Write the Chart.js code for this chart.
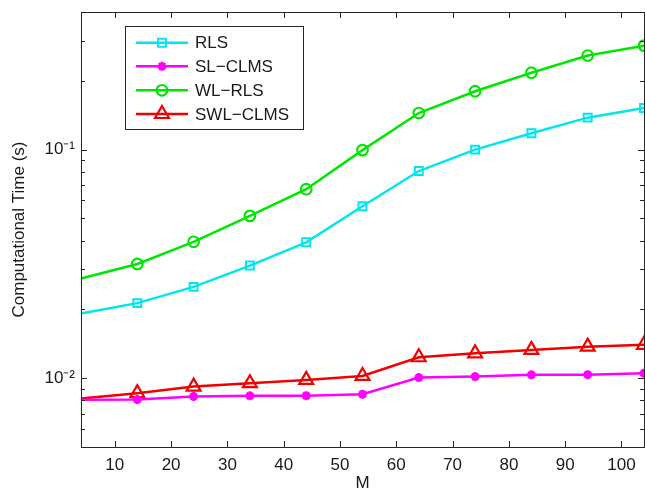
<!DOCTYPE html>
<html>
<head>
<meta charset="utf-8">
<script src="https://cdn.jsdelivr.net/npm/chart.js@4/dist/chart.umd.min.js"></script>
<style>
  html, body { margin: 0; padding: 0; background: #ffffff; }
  #wrap { width: 645px; height: 488px; }
</style>
</head>
<body>
<div id="wrap"><canvas id="c" width="645" height="488"></canvas></div>
<script>
// ---- data ----
const M = [4, 14, 24, 34, 44, 54, 64, 74, 84, 94, 104];
const rls     = [0.0192, 0.0213, 0.0251, 0.0311, 0.0393, 0.0565, 0.0806, 0.100, 0.118, 0.138, 0.152];
const slclms  = [0.00804, 0.00806, 0.00832, 0.00837, 0.00838, 0.00851, 0.01006, 0.01016, 0.01034, 0.01036, 0.01051];
const wlrls   = [0.0273, 0.0316, 0.0395, 0.0513, 0.0671, 0.0995, 0.1445, 0.180, 0.217, 0.258, 0.285];
const swlclms = [0.00815, 0.00860, 0.00919, 0.00951, 0.00983, 0.01023, 0.01235, 0.01285, 0.0133, 0.01374, 0.0140];
const seriesNames = ['RLS', 'SL\u2212CLMS', 'WL\u2212RLS', 'SWL\u2212CLMS'];
const xTicks = [10, 20, 30, 40, 50, 60, 70, 80, 90, 100];
const yTickValues = [0.01, 0.1];
const yTickLabels = ['10\u207B\u00B2', '10\u207B\u00B9'];
const yMinorTicks = [0.005, 0.006, 0.007, 0.008, 0.009, 0.02, 0.03, 0.04, 0.05, 0.06, 0.07, 0.08, 0.09, 0.2, 0.3, 0.4];

const FONT = 'Liberation Sans, Arial, Helvetica, sans-serif';
const TXT = '#1a1a1a';

function ds(label, data, color, style, r, bw) {
  return {
    label: label, data: data.map((v, i) => ({x: M[i], y: v})),
    borderColor: color, backgroundColor: 'rgba(0,0,0,0)',
    borderWidth: 2.5, pointStyle: style,
    pointRadius: ctx => ctx.dataIndex === 0 ? 0 : r,
    pointBorderWidth: bw, pointBorderColor: color, pointBackgroundColor: 'rgba(0,0,0,0)',
    tension: 0, clip: false, _r: r
  };
}

const boxTicks = {
  id: 'boxTicks',
  afterDatasetsDraw(chart) {
    const {ctx, chartArea: a, scales: {x, y}} = chart;
    ctx.save();
    ctx.strokeStyle = '#262626';
    ctx.lineWidth = 1;
    ctx.beginPath();
    xTicks.forEach(v => {
      const px = Math.round(x.getPixelForValue(v)) + 0.5;
      ctx.moveTo(px, a.bottom); ctx.lineTo(px, a.bottom - 6);
      ctx.moveTo(px, a.top); ctx.lineTo(px, a.top + 6);
    });
    yTickValues.forEach(v => {
      const py = Math.round(y.getPixelForValue(v)) + 0.5;
      ctx.moveTo(a.left, py); ctx.lineTo(a.left + 6, py);
      ctx.moveTo(a.right, py); ctx.lineTo(a.right - 6, py);
    });
    yMinorTicks.forEach(v => {
      const py = Math.round(y.getPixelForValue(v)) + 0.5;
      ctx.moveTo(a.left, py); ctx.lineTo(a.left + 4, py);
      ctx.moveTo(a.right, py); ctx.lineTo(a.right - 4, py);
    });
    ctx.stroke();
    ctx.strokeRect(Math.round(a.left) + 0.5, Math.round(a.top) + 0.5,
                   Math.round(a.right - a.left), Math.round(a.bottom - a.top));
    ctx.restore();
  },
  afterDraw(chart) {
    const ctx = chart.ctx;
    const bx = 125, by = 26, bw = 178, bh = 103;
    ctx.save();
    ctx.fillStyle = '#ffffff';
    ctx.fillRect(bx, by, bw, bh);
    ctx.strokeStyle = '#262626';
    ctx.lineWidth = 1;
    ctx.strokeRect(bx + 0.5, by + 0.5, bw, bh);
    const rows = [42.7, 66.3, 90.3, 114];
    chart.data.datasets.forEach((d, i) => {
      const yy = rows[i];
      ctx.strokeStyle = d.borderColor;
      ctx.lineWidth = 2.5;
      ctx.beginPath();
      ctx.moveTo(136, yy); ctx.lineTo(188, yy);
      ctx.stroke();
      ctx.lineWidth = d.pointBorderWidth;
      ctx.fillStyle = 'rgba(0,0,0,0)';
      Chart.helpers.drawPoint(ctx, {pointStyle: d.pointStyle, radius: d._r, borderWidth: d.pointBorderWidth, rotation: 0}, 162, yy);
      ctx.fillStyle = TXT;
      ctx.font = '17px ' + FONT;
      ctx.textBaseline = 'middle';
      ctx.textAlign = 'left';
      ctx.fillText(d.label, 195, yy + 1);
    });
    ctx.restore();
  }
};

new Chart(document.getElementById('c'), {
  type: 'line',
  data: {
    datasets: [
      ds(seriesNames[0], rls, '#00e6ee', 'rect', 5.6, 2),
      ds(seriesNames[1], slclms, '#ff00ff', 'star', 4.5, 2.8),
      ds(seriesNames[2], wlrls, '#00e600', 'circle', 5.3, 2.2),
      ds(seriesNames[3], swlclms, '#f20000', 'triangle', 8, 2.2)
    ]
  },
  options: {
    responsive: false,
    animation: false,
    devicePixelRatio: 1,
    layout: { autoPadding: false, padding: { left: 0, right: 1, top: 12, bottom: 0 } },
    plugins: { legend: { display: false }, tooltip: { enabled: false } },
    scales: {
      x: {
        type: 'linear', min: 4, max: 104,
        grid: { display: false, drawTicks: false },
        border: { display: false },
        afterBuildTicks: s => { s.ticks = xTicks.map(v => ({value: v})); },
        afterFit: s => { s.height = 41; s.paddingLeft = 0; s.paddingRight = 0; },
        ticks: { color: TXT, font: { family: FONT, size: 17 }, padding: 8, maxRotation: 0, autoSkip: false },
        title: { display: true, text: 'M', color: TXT, font: { family: FONT, size: 17 }, padding: { top: 0, bottom: -6 } }
      },
      y: {
        type: 'logarithmic', min: 0.005, max: 0.4,
        grid: { display: false, drawTicks: false },
        border: { display: false },
        afterBuildTicks: s => { s.ticks = yTickValues.map(v => ({value: v})); },
        afterFit: s => { s.width = 81; s.paddingTop = 0; s.paddingBottom = 0; },
        ticks: {
          color: TXT, font: { family: FONT, size: 17 }, padding: 6, autoSkip: false,
          callback: (v) => { const i = yTickValues.indexOf(v); return i >= 0 ? yTickLabels[i] : ''; }
        },
        title: { display: true, text: 'Computational Time (s)', color: TXT, font: { family: FONT, size: 17 }, padding: { top: 9, bottom: 0 } }
      }
    }
  },
  plugins: [boxTicks]
});
</script>
</body>
</html>
